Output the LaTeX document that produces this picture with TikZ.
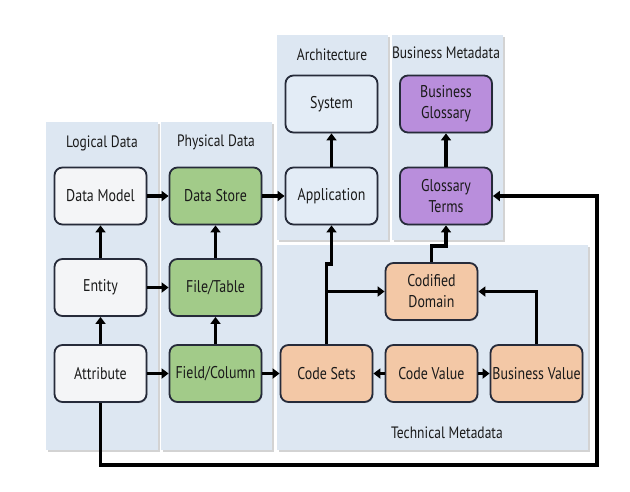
\documentclass[tikz,border=0pt]{standalone}
\usepackage{fontspec}
\setmainfont[FakeStretch=0.82]{PT Sans}
\usetikzlibrary{arrows.meta,shadows}
\definecolor{panelc}{HTML}{DDE7F2}
\definecolor{logc}{HTML}{F4F5F7}
\definecolor{physc}{HTML}{A2CB89}
\definecolor{archc}{HTML}{E3ECF6}
\definecolor{busc}{HTML}{B98EDC}
\definecolor{techc}{HTML}{F3C8A6}
\definecolor{edgec}{HTML}{262B3A}
\definecolor{txtc}{HTML}{1A1A1A}
\tikzset{
  panel/.style={fill=panelc,draw=none,drop shadow={shadow xshift=1.5pt,shadow yshift=-1.5pt,opacity=0.35}},
  ptitle/.style={text=txtc,font=\fontsize{16.5}{18}\selectfont},
  box/.style={draw=edgec,line width=1.8pt,rounded corners=8pt,minimum width=92pt,minimum height=57pt,
     align=center,text=txtc,font=\fontsize{17}{21}\selectfont,inner sep=1pt,
     drop shadow={shadow xshift=1pt,shadow yshift=-1pt,opacity=0.3}},
  lbox/.style={box,fill=logc},
  pbox/.style={box,fill=physc},
  abox/.style={box,fill=archc},
  bbox/.style={box,fill=busc},
  tbox/.style={box,fill=techc},
  arr/.style={line width=3.2pt,draw=black,-{Triangle[width=10pt,length=7pt]}},
}
\begin{document}
\begin{tikzpicture}[x=1pt,y=-1pt]
\useasboundingbox (0,0) rectangle (630,491);
% panels
\path[panel] (46,122) rectangle (158,450);
\path[panel] (161,122) rectangle (272,450);
\path[panel] (277,35) rectangle (388,240);
\path[panel] (392,35) rectangle (503,240);
\path[panel] (277,245) rectangle (588,450);
\node[ptitle] (tl) at (102,143) {Logical Data};
\node[ptitle] (tp) at (216,142) {Physical Data};
\node[ptitle] (ta) at (332,55) {Architecture};
\node[ptitle] (tb) at (446,53) {Business Metadata};
\node[ptitle] (tt) at (447,433) {Technical Metadata};
% boxes
\node[lbox] (dm) at (100.5,196) {Data Model};
\node[lbox] (en) at (100.5,287.5) {Entity};
\node[lbox] (at) at (100.5,373.5) {Attribute};
\node[pbox] (ds) at (215.5,196) {Data Store};
\node[pbox] (ft) at (215.5,287.5) {File/Table};
\node[pbox] (fc) at (215.5,373.5) {Field/Column};
\node[abox] (sy) at (331.5,104) {System};
\node[abox] (ap) at (331.5,196) {Application};
\node[bbox] (bg) at (446,104) {Business\\Glossary};
\node[bbox] (gt) at (446,196) {Glossary\\Terms};
\node[tbox] (cd) at (431.5,291.5) {Codified\\Domain};
\node[tbox] (cs) at (326.5,373.5) {Code Sets};
\node[tbox] (cv) at (431.5,373.5) {Code Value};
\node[tbox] (bv) at (536.5,373.5) {Business Value};
% connectors
\draw[arr] (dm) -- (ds);
\draw[arr] (ds) -- (ap);
\draw[arr] (en) -- (ft);
\draw[arr] (at) -- (fc);
\draw[arr] (fc) -- (cs);
\draw[arr] (at) -- (en);
\draw[arr] (en) -- (dm);
\draw[arr] (fc) -- (ft);
\draw[arr] (ft) -- (ds);
\draw[arr] (ap) -- (sy);
\draw[arr] (gt) -- (bg);
\draw[arr] (cv) -- (cs);
\draw[arr] (cv) -- (bv);
\coordinate (j1) at (326.5,264);
\coordinate (j2) at (331.5,264);
\coordinate (b1) at (326.5,291.5);
\draw[arr] (cs.north) -- (j1) -- (j2) -- (ap.south);
\draw[arr] (b1) -- (cd.west);
\coordinate (k1) at (431.5,246);
\coordinate (k2) at (446,246);
\draw[arr] (cd.north) -- (k1) -- (k2) -- (gt.south);
\draw[arr] (bv.north) |- (cd.east);
\coordinate (l1) at (100.5,465);
\coordinate (l2) at (597,465);
\draw[arr] (at.south) -- (l1) -- (l2) |- (gt.east);
\end{tikzpicture}
\end{document}
